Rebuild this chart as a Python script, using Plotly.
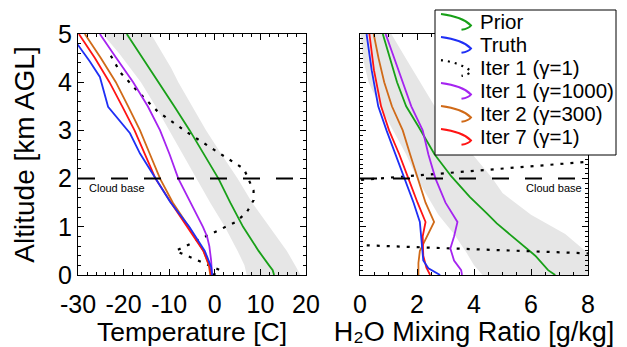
import plotly.graph_objects as go

W, H = 627, 347
FONT = "Liberation Sans, Arial, Helvetica, sans-serif"

# ---------------- Temperature profiles (km AGL, deg C) ----------------
Z_T_BAND = [0, 0.2, 0.5, 1.0, 1.5, 2.0, 2.5, 3.0, 3.5, 4.0, 4.3, 4.6, 5.0]
T_BAND_LO = [7.0, 6.5, 5.0, 2.2, -1.0, -4.0, -7.0, -10.0, -13.0, -16.2, -18.5, -21.0, -24.6]
T_BAND_HI = [18.8, 17.6, 15.8, 12.0, 8.2, 5.0, 1.5, -1.9, -5.0, -8.0, -9.6, -11.5, -14.0]

Z_T_PRIOR = [0, 0.1, 0.2, 0.5, 1.0, 1.5, 2.0, 2.5, 3.0, 3.5, 4.0, 4.5, 5.0]
T_PRIOR = [13.0, 12.7, 11.9, 9.6, 6.2, 3.4, 0.8, -2.4, -5.5, -8.9, -12.4, -15.9, -19.3]

Z_T_TRUTH = [0, 0.17, 0.5, 1.0, 1.52, 2.04, 2.52, 2.94, 3.25, 3.49, 4.11, 4.43, 4.77, 5.0]
T_TRUTH = [-0.6, -0.8, -2.2, -5.6, -9.8, -13.2, -16.4, -18.6, -21.2, -23.4, -25.2, -27.4, -30.0, -31.6]

Z_T_IT1_G1 = [0, 0.1, 0.5, 1.1, 1.3, 1.55, 1.75, 2.0, 2.2, 2.6, 3.0, 3.4, 3.8, 4.2, 4.55]
T_IT1_G1 = [-0.4, 1.2, -8.6, 4.6, 7.0, 8.5, 8.5, 7.4, 6.4, -0.2, -6.7, -12.6, -16.8, -20.7, -22.8]

Z_T_IT1_G1000 = [0, 0.3, 0.6, 0.8, 1.0, 1.5, 2.0, 2.5, 3.0, 3.5, 4.0, 4.5, 5.0]
T_IT1_G1000 = [-0.6, -0.8, -1.2, -1.7, -2.6, -5.3, -8.0, -9.9, -12.0, -14.7, -17.9, -21.6, -25.2]

Z_T_IT2 = [0, 0.2, 0.5, 1.0, 1.5, 2.0, 2.5, 3.0, 3.5, 4.0, 4.5, 5.0]
T_IT2 = [-1.0, -1.3, -2.5, -5.7, -9.2, -12.0, -14.2, -16.4, -19.0, -21.7, -25.0, -28.5]

Z_T_IT7 = [0, 0.2, 0.5, 1.0, 1.5, 2.0, 2.5, 3.0, 3.5, 4.0, 4.5, 5.0]
T_IT7 = [-0.8, -1.2, -2.5, -6.1, -9.6, -13.0, -15.3, -17.6, -20.3, -23.1, -26.3, -29.8]

# ---------------- Water vapour mixing ratio profiles (g/kg) ----------------
Z_Q_BAND = [0, 0.2, 0.45, 0.85, 1.25, 1.7, 2.0, 2.5, 3.0, 3.5, 4.0, 4.5, 5.0]
Q_BAND_LO = [4.3, 4.0, 3.75, 3.3, 2.75, 2.3, 2.0, 1.62, 1.15, 0.7, 0.3, 0.1, 0.02]
Q_BAND_HI = [9.5, 8.8, 8.0, 7.2, 6.0, 5.0, 4.65, 3.95, 3.3, 2.62, 2.1, 1.6, 1.1]

Z_Q_PRIOR = [0, 0.1, 0.4, 0.62, 0.9, 1.07, 1.28, 1.62, 2.05, 2.5, 3.08, 3.5, 4.0, 4.6, 5.0]
Q_PRIOR = [6.85, 6.6, 6.15, 5.7, 5.15, 4.8, 4.45, 3.85, 3.2, 2.62, 2.05, 1.62, 1.3, 1.0, 0.8]

Z_Q_TRUTH = [0, 0.14, 0.3, 0.7, 1.1, 1.5, 2.0, 2.5, 3.0, 3.5, 4.25, 5.0]
Q_TRUTH = [2.81, 2.4, 2.22, 2.16, 2.1, 1.88, 1.56, 1.25, 0.93, 0.64, 0.41, 0.23]

Z_Q_IT1_G1 = [0, 0.3, 0.75, 1.9, 2.6, 3.5, 5.0]
Q_IT1_G1 = [16.0, 15.0, -6.1, -1.5, 13.3, 14.0, 12.0]

Z_Q_IT1_G1000 = [0, 0.1, 0.3, 0.55, 0.8, 1.1, 1.5, 2.0, 2.5, 3.0, 3.5, 4.0, 4.5, 5.0]
Q_IT1_G1000 = [3.58, 3.55, 3.3, 3.17, 3.3, 3.42, 3.0, 2.65, 2.4, 2.2, 1.8, 1.5, 1.18, 0.9]

Z_Q_IT2 = [0, 0.25, 0.5, 0.8, 1.1, 1.5, 2.0, 2.5, 3.0, 3.5, 4.0, 4.5, 5.0]
Q_IT2 = [2.05, 2.05, 2.1, 2.35, 2.6, 2.3, 2.02, 1.76, 1.5, 1.12, 0.85, 0.65, 0.48]

Z_Q_IT7 = [0, 0.15, 0.4, 0.8, 1.1, 1.5, 2.0, 2.5, 3.0, 3.5, 4.25, 5.0]
Q_IT7 = [2.46, 2.33, 2.22, 2.2, 2.3, 2.02, 1.7, 1.38, 1.02, 0.74, 0.49, 0.33]

CLOUD_BASE_KM = 2.0

T_TICKS = [-30, -20, -10, 0, 10, 20]
T_TICK_TEXT = ["-30", "-20", "-10", "0", "10", "20"]
Q_TICKS = [0, 2, 4, 6, 8]
Z_TICKS = [0, 1, 2, 3, 4, 5]

# series styling: name, colour, dash
SERIES = [
    ("Prior", "#18a018", "solid"),
    ("Truth", "#1f2ff5", "solid"),
    ("Iter 1 (γ=1)", "black", "3px,7px"),
    ("Iter 1 (γ=1000)", "#a524f0", "solid"),
    ("Iter 2 (γ=300)", "#d06a18", "solid"),
    ("Iter 7 (γ=1)", "#ff1414", "solid"),
]
STYLE = {name: (c, d) for name, c, d in SERIES}

T_PROFILES = {
    "Prior": (T_PRIOR, Z_T_PRIOR),
    "Truth": (T_TRUTH, Z_T_TRUTH),
    "Iter 1 (γ=1)": (T_IT1_G1, Z_T_IT1_G1),
    "Iter 1 (γ=1000)": (T_IT1_G1000, Z_T_IT1_G1000),
    "Iter 2 (γ=300)": (T_IT2, Z_T_IT2),
    "Iter 7 (γ=1)": (T_IT7, Z_T_IT7),
}
Q_PROFILES = {
    "Prior": (Q_PRIOR, Z_Q_PRIOR),
    "Truth": (Q_TRUTH, Z_Q_TRUTH),
    "Iter 1 (γ=1)": (Q_IT1_G1, Z_Q_IT1_G1),
    "Iter 1 (γ=1000)": (Q_IT1_G1000, Z_Q_IT1_G1000),
    "Iter 2 (γ=300)": (Q_IT2, Z_Q_IT2),
    "Iter 7 (γ=1)": (Q_IT7, Z_Q_IT7),
}
DRAW_ORDER = ["Prior", "Iter 1 (γ=1)", "Iter 1 (γ=1000)", "Iter 2 (γ=300)",
              "Iter 7 (γ=1)", "Truth"]

fig = go.Figure()

BAND_FILL = "#e6e6e6"


def add_band(lo, hi, z, xa, ya):
    fig.add_trace(go.Scatter(
        x=list(lo) + list(hi)[::-1], y=list(z) + list(z)[::-1],
        fill="toself", fillcolor=BAND_FILL, line=dict(width=0),
        mode="lines", hoverinfo="skip", showlegend=False, xaxis=xa, yaxis=ya))


add_band(T_BAND_LO, T_BAND_HI, Z_T_BAND, "x", "y")
add_band(Q_BAND_LO, Q_BAND_HI, Z_Q_BAND, "x2", "y2")

for name in DRAW_ORDER:
    color, dash = STYLE[name]
    width = 2.2 if dash != "solid" else 1.8
    for prof, xa, ya in ((T_PROFILES, "x", "y"), (Q_PROFILES, "x2", "y2")):
        xs, zs = prof[name]
        fig.add_trace(go.Scatter(
            x=xs, y=zs, mode="lines", name=name, showlegend=False,
            line=dict(color=color, width=width, dash=dash),
            xaxis=xa, yaxis=ya))


def px2paper(px, py):
    return px / W, 1 - py / H


shapes = []
# cloud-base line in both panels
for xa, ya in (("x domain", "y"), ("x2 domain", "y2")):
    shapes.append(dict(type="line", xref=xa, yref=ya, x0=0, x1=1,
                       y0=CLOUD_BASE_KM, y1=CLOUD_BASE_KM, layer="above",
                       line=dict(color="black", width=2, dash="17px,16px")))

# legend frame
lx0, ly1 = px2paper(435, 10)
lx1, ly0 = px2paper(616, 155)
shapes.append(dict(type="rect", xref="paper", yref="paper", x0=lx0, x1=lx1,
                   y0=ly0, y1=ly1, fillcolor="white", layer="above",
                   line=dict(color="black", width=1)))

annotations = []
for i, (name, color, dash) in enumerate(SERIES):
    c = 21.5 + 23 * i
    pts = [(441, c - 7.4), (452, c - 6), (465, c - 2), (471, c + 4),
           (469, c + 7), (461.5, c + 8.3)]
    p = [px2paper(*q) for q in pts]
    path = ("M {:.5f},{:.5f} C {:.5f},{:.5f} {:.5f},{:.5f} {:.5f},{:.5f} "
            "Q {:.5f},{:.5f} {:.5f},{:.5f}").format(
        p[0][0], p[0][1], p[1][0], p[1][1], p[2][0], p[2][1], p[3][0], p[3][1],
        p[4][0], p[4][1], p[5][0], p[5][1])
    shapes.append(dict(type="path", xref="paper", yref="paper", path=path,
                       layer="above",
                       line=dict(color=color, width=2 if dash == "solid" else 2.2,
                                 dash="solid" if dash == "solid" else "2px,5px")))
    tx, ty = px2paper(478, c)
    annotations.append(dict(xref="paper", yref="paper", x=tx, y=ty,
                            xanchor="left", yanchor="middle", showarrow=False,
                            text=name, font=dict(size=20.5, color="black", family=FONT)))

annotations.append(dict(xref="x", yref="y", x=-28, y=CLOUD_BASE_KM, xanchor="left",
                        yanchor="top", yshift=-1, showarrow=False, text="Cloud base",
                        font=dict(size=11, color="black", family=FONT)))
annotations.append(dict(xref="x2", yref="y2", x=7.85, y=CLOUD_BASE_KM, xanchor="right",
                        yanchor="top", yshift=-1, showarrow=False, text="Cloud base",
                        font=dict(size=11, color="black", family=FONT)))

axis_common = dict(showgrid=False, zeroline=False, showline=True, linecolor="black",
                   linewidth=1, mirror="ticks", ticks="inside", ticklen=6,
                   tickwidth=1, tickcolor="black", automargin=False, tickangle=0,
                   tickfont=dict(size=25, color="black", family=FONT))

y0d, y1d = 1 - 275 / H, 1 - 34 / H

fig.update_layout(
    width=W, height=H, margin=dict(l=0, r=0, t=0, b=0, autoexpand=False),
    paper_bgcolor="white", plot_bgcolor="white", showlegend=False,
    font=dict(family=FONT, color="black"),
    xaxis=dict(domain=[78 / W, 306 / W], range=[-30, 20], tickvals=T_TICKS,
               ticktext=T_TICK_TEXT, anchor="y", ticklabelstandoff=7,
               minor=dict(dtick=2, ticks="inside", ticklen=3, tickcolor="black"),
               title=dict(text="Temperature [C]", font=dict(size=26.5), standoff=9),
               **axis_common),
    yaxis=dict(domain=[y0d, y1d], range=[0, 5], tickvals=Z_TICKS, anchor="x",
               minor=dict(dtick=0.2, ticks="inside", ticklen=3, tickcolor="black"),
               title=dict(text="Altitude [km AGL]", font=dict(size=28), standoff=15),
               **axis_common),
    xaxis2=dict(domain=[360 / W, 588 / W], range=[0, 8], tickvals=Q_TICKS,
                anchor="y2", ticklabelstandoff=7,
                minor=dict(dtick=0.5, ticks="inside", ticklen=3, tickcolor="black"),
                title=dict(text="H₂O Mixing Ratio [g/kg]",
                           font=dict(size=27), standoff=9),
                **axis_common),
    yaxis2=dict(domain=[y0d, y1d], range=[0, 5], tickvals=Z_TICKS, anchor="x2",
                matches="y", showticklabels=False,
                minor=dict(dtick=0.1, ticks="inside", ticklen=3, tickcolor="black"),
                **axis_common),
    shapes=shapes, annotations=annotations,
)

fig.write_html("out.html", config={"displayModeBar": False})
